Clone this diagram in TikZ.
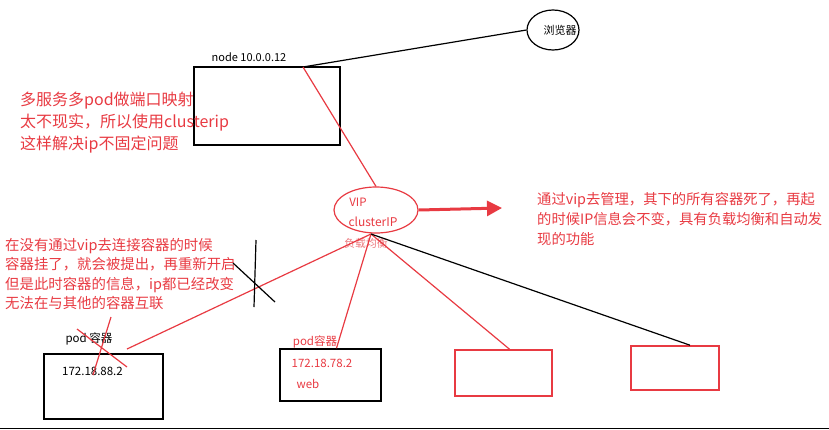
\documentclass[tikz,border=0pt]{standalone}
\usepackage{fontspec}
\setmainfont{Noto Sans CJK SC}
\usetikzlibrary{shapes.geometric,arrows.meta}
\definecolor{penred}{RGB}{232,58,66}
\definecolor{fadered}{RGB}{236,120,125}
\begin{document}
\begin{tikzpicture}[x=1pt,y=-1pt,
	box/.style={draw, line width=1.6pt, inner sep=0},
	redbox/.style={box, draw=penred},
	redline/.style={penred, line width=1.2pt},
	note/.style={anchor=north west, align=left, inner sep=0, text=penred}]
	\useasboundingbox (0,0) rectangle (829,429);
	% browser and host
	\node [ellipse, draw, line width=1.2pt, minimum width=52pt, minimum height=40pt, inner sep=0] (browser) at (553,30) {};
	\node [font=\fontsize{11}{13}\selectfont] (browsertxt) at (560,30) {浏览器};
	\node [box, minimum width=146pt, minimum height=78pt] (host) at (267,106) {};
	\node [font=\fontsize{11}{13}\selectfont] (hostlbl) at (249,57) {node 10.0.0.12};
	\coordinate (hosttop) at (303,67);
	\draw [line width=1.2pt] (browser.west) -- (hosttop);
	\node [note, font=\fontsize{16}{22}\selectfont] (note1) at (20,92) {多服务多pod做端口映射\\太不现实，所以使用clusterip\\这样解决ip不固定问题};
	% cluster ip
	\node [ellipse, draw=penred, line width=1.2pt, minimum width=84pt, minimum height=46pt, inner sep=0] (vip) at (376,210) {};
	\node [text=penred, font=\fontsize{11.5}{13}\selectfont] (viptxt) at (358,202) {VIP};
	\node [text=penred, font=\fontsize{12}{14}\selectfont] (cliptxt) at (373,222) {clusterIP};
	\node [text=fadered, font=\fontsize{10.8}{13}\selectfont] (lbtxt) at (366,243) {负载均衡};
	\draw [redline] (hosttop) -- (vip.north);
	\coordinate (tip) at (502,208);
	\draw [penred, line width=3pt, -{Triangle[length=15pt,width=15pt]}] (vip.east) -- (tip);
	\node [note, font=\fontsize{14.3}{20}\selectfont] (note2) at (537,192) {通过vip去管理，其下的所有容器死了，再起\\的时候IP信息会不变，具有负载均衡和自动发\\现的功能};
	\node [note, font=\fontsize{14.4}{19.5}\selectfont] (note3) at (5,238) {在没有通过vip去连接容器的时候\\容器挂了，就会被提出，再重新开启\\但是此时容器的信息，ip都已经改变\\无法在与其他的容器互联};
	% pods
	\node [box, minimum width=119pt, minimum height=65pt] (pod1) at (103.5,386.5) {};
	\node [font=\fontsize{11.5}{13}\selectfont] (pod1lbl) at (89,339) {pod 容器};
	\node [font=\fontsize{11.5}{13}\selectfont] (pod1ip) at (92.5,371) {172.18.88.2};
	\node [box, minimum width=101pt, minimum height=52pt] (pod2) at (330.5,375) {};
	\node [text=penred, font=\fontsize{11.5}{13}\selectfont] (pod2lbl) at (315,342) {pod容器};
	\node [text=penred, font=\fontsize{11.5}{13}\selectfont] (pod2ip) at (322,363) {172.18.78.2};
	\node [text=penred, font=\fontsize{11.5}{13}\selectfont] (pod2app) at (308,384) {web};
	\node [redbox, minimum width=97pt, minimum height=46pt] (pod3) at (503.5,373) {};
	\node [redbox, minimum width=88pt, minimum height=44pt] (pod4) at (675,368) {};
	\coordinate (hub) at (371,234);
	\coordinate (pod1end) at (127,349);
	\draw [redline] (hub) -- (pod1end);
	\draw [redline] (hub) -- ([xshift=6pt]pod2.north);
	\draw [redline] (hub) -- ([xshift=6pt]pod3.north);
	\draw [line width=1.2pt] (hub) -- ([xshift=15pt]pod4.north);
	% crossed out
	\draw [line width=1.2pt] (256,240) -- (254,307);
	\draw [line width=1.2pt] (233,263) -- (275,302);
	\draw [redline] (77,329) -- (127,367);
	\draw [redline] (111,317) -- (93,375);
	\draw [line width=1pt] (0,428) -- (829,428);
\end{tikzpicture}
\end{document}
